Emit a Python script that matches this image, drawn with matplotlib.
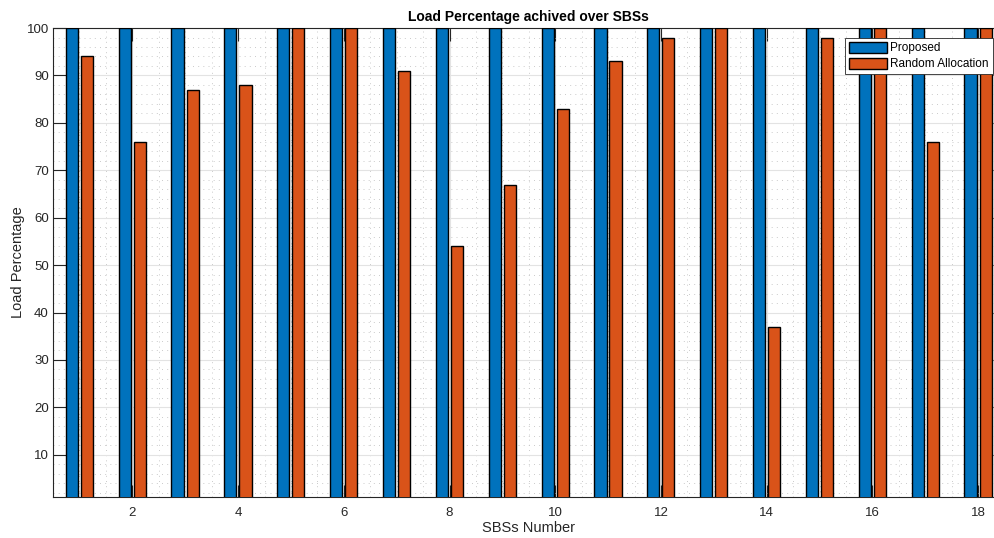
import matplotlib.pyplot as plt
import numpy as np
from matplotlib.ticker import MultipleLocator

plt.rcParams['font.family'] = ['Liberation Sans', 'DejaVu Sans']

# data
sbs = np.arange(1, 19)
proposed = [100] * 18
random_alloc = [94, 76, 87, 88, 100, 100, 91, 54, 67, 83, 93, 98, 100, 37, 98, 100, 76, 100]

blue = '#0072BD'
orange = '#D95319'

fig = plt.figure(figsize=(9.95, 5.38), dpi=100)
ax = fig.add_axes([0.0533, 0.0762, 0.9564, 0.8717])

w = 0.23
ax.bar(sbs - 0.145, proposed, w, color=blue, edgecolor='black', linewidth=1.0,
       label='Proposed', zorder=3)
ax.bar(sbs + 0.14, random_alloc, w, color=orange, edgecolor='black', linewidth=1.0,
       label='Random Allocation', zorder=3)

ax.set_xlim(0.5, 18.5)
ax.set_ylim(1.1, 100)
ax.set_xticks(np.arange(2, 19, 2))
ax.set_yticks(np.arange(10, 101, 10))
ax.xaxis.set_minor_locator(MultipleLocator(0.5))
ax.yaxis.set_minor_locator(MultipleLocator(2))

ax.grid(which='major', color='#e3e3e3', linewidth=0.8, zorder=0)
ax.grid(which='minor', color='#c4c4c4', linestyle=(0, (1.2, 5)), linewidth=0.6, zorder=0)
ax.set_axisbelow(True)

ax.tick_params(which='major', direction='in', length=9, width=0.8, color='#262626',
               labelsize=9.5, labelcolor='#262626', top=True, right=True)
ax.tick_params(axis='x', which='major', pad=7)
ax.tick_params(axis='y', which='major', pad=3)
ax.tick_params(which='minor', length=0)
for s in ax.spines.values():
    s.set_color('#262626')
    s.set_linewidth(0.8)

ax.set_title('Load Percentage achived over SBSs', fontsize=10, fontweight='bold',
             color='black', pad=5)
ax.set_xlabel('SBSs Number', fontsize=10.5, color='#262626', labelpad=1.5)
ax.set_ylabel('Load Percentage', fontsize=10.5, color='#262626', labelpad=1)

leg = ax.legend(loc='upper right', bbox_to_anchor=(0.9877, 0.9787), fontsize=8.5,
                fancybox=False, edgecolor='#262626', framealpha=1,
                handlelength=3.2, handleheight=1.0, handletextpad=0.3,
                borderpad=0.35, labelspacing=0.3, borderaxespad=0)
leg.get_frame().set_linewidth(0.6)

fig.savefig('out.png', dpi=100)
